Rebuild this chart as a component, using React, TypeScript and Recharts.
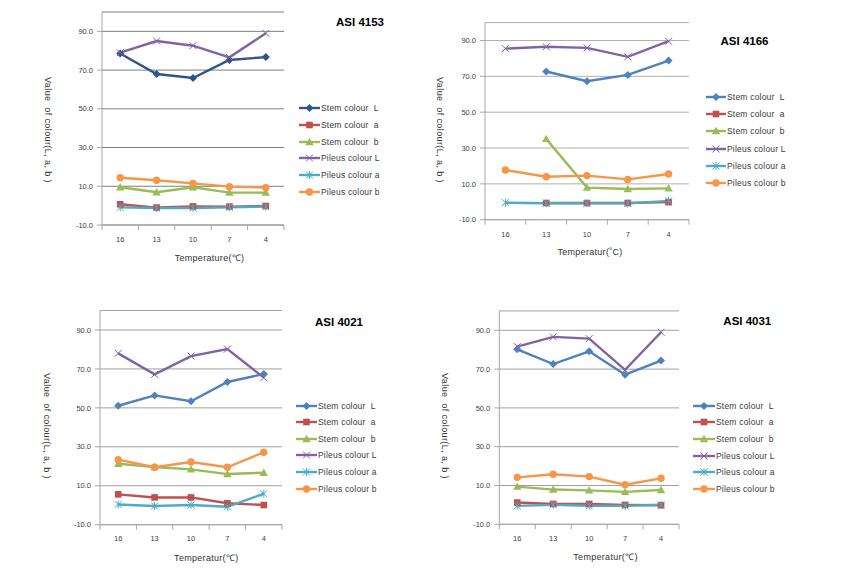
import React from 'react';
import { LineChart, Line, XAxis, YAxis, CartesianGrid, Legend } from 'recharts';

// ---------- data ----------
const temperatures = ['16', '13', '10', '7', '4'];
const yTicks = [-10, 10, 30, 50, 70, 90];
const seriesNames = [
  'Stem colour  L',
  'Stem colour  a',
  'Stem colour  b',
  'Pileus colour L',
  'Pileus colour a',
  'Pileus colour b',
];
const panelTitles = ['ASI 4153', 'ASI 4166', 'ASI 4021', 'ASI 4031'];
const xAxisTitles = ['Temperature(\u2103)', 'Temperatur(\u02daC)', 'Temperatur(\u2103)', 'Temperatur(\u2103)'];
const yAxisTitle = 'Value  of colour(L, a, b )';

// ASI 4153
const a4153StemL = [78.6, 68.0, 65.9, 75.2, 76.7];
const a4153StemA = [0.7, -1.0, -0.4, -0.5, -0.2];
const a4153StemB = [9.5, 6.9, 9.5, 6.7, 6.7];
const a4153PileusL = [79.0, 85.0, 82.6, 76.6, 89.0];
const a4153PileusA = [-0.9, -1.2, -1.2, -0.9, -0.5];
const a4153PileusB = [14.4, 13.1, 11.5, 9.8, 9.3];

// ASI 4166
const a4166StemL = [null, 72.7, 67.3, 70.8, 78.8];
const a4166StemA = [null, -0.7, -0.7, -0.7, -0.2];
const a4166StemB = [null, 35.1, 7.9, 7.1, 7.5];
const a4166PileusL = [85.5, 86.5, 85.9, 80.9, 89.6];
const a4166PileusA = [-0.5, -0.8, -0.9, -0.9, 0.5];
const a4166PileusB = [17.7, 14.0, 14.6, 12.5, 15.5];

// ASI 4021
const a4021StemL = [51.1, 56.4, 53.4, 63.3, 67.4];
const a4021StemA = [5.6, 4.0, 4.0, 1.0, 0.1];
const a4021StemB = [21.3, 19.6, 18.4, 16.0, 16.7];
const a4021PileusL = [78.0, 67.2, 76.6, 80.2, 65.5];
const a4021PileusA = [0.4, -0.4, 0.1, -0.8, 5.9];
const a4021PileusB = [23.4, 19.5, 22.2, 19.5, 27.2];

// ASI 4031
const a4031StemL = [80.2, 72.6, 79.2, 67.1, 74.4];
const a4031StemA = [1.2, 0.5, 0.5, 0.0, -0.2];
const a4031StemB = [9.4, 7.9, 7.5, 6.7, 7.7];
const a4031PileusL = [81.6, 86.6, 85.7, 69.6, 89.0];
const a4031PileusA = [-0.5, 0.0, -0.4, -0.5, 0.1];
const a4031PileusB = [14.2, 15.8, 14.6, 10.4, 13.7];

const buildRows = (series: (number | null)[][]) =>
  temperatures.map((t, i) => {
    const row: Record<string, any> = { temp: t };
    series.forEach((s, k) => {
      row['s' + k] = s[i];
    });
    return row;
  });

const rows4153 = buildRows([a4153StemL, a4153StemA, a4153StemB, a4153PileusL, a4153PileusA, a4153PileusB]);
const rows4166 = buildRows([a4166StemL, a4166StemA, a4166StemB, a4166PileusL, a4166PileusA, a4166PileusB]);
const rows4021 = buildRows([a4021StemL, a4021StemA, a4021StemB, a4021PileusL, a4021PileusA, a4021PileusB]);
const rows4031 = buildRows([a4031StemL, a4031StemA, a4031StemB, a4031PileusL, a4031PileusA, a4031PileusB]);

// ---------- styles ----------
const FONT = '"Liberation Sans", Arial, sans-serif';
const AXIS = '#A6A6A6';
const YAXIS_W = 40;
const baseColors = ['#4F81BD', '#C0504D', '#9BBB59', '#8064A2', '#4BACC6', '#F79646'];
const shapes = ['diamond', 'square', 'triangle', 'x', 'star', 'circle'];

function Marker({ shape, color, x, y }: { shape: string; color: string; x: number; y: number }) {
  switch (shape) {
    case 'diamond':
      return <polygon points={`${x},${y - 4} ${x + 4},${y} ${x},${y + 4} ${x - 4},${y}`} fill={color} />;
    case 'square':
      return <rect x={x - 3.3} y={y - 3.3} width={6.6} height={6.6} fill={color} />;
    case 'triangle':
      return <polygon points={`${x},${y - 4.2} ${x + 4.2},${y + 3.2} ${x - 4.2},${y + 3.2}`} fill={color} />;
    case 'x':
      return (
        <g stroke={color} strokeWidth={1}>
          <line x1={x - 3.5} y1={y - 3.5} x2={x + 3.5} y2={y + 3.5} />
          <line x1={x - 3.5} y1={y + 3.5} x2={x + 3.5} y2={y - 3.5} />
        </g>
      );
    case 'star':
      return (
        <g stroke={color} strokeWidth={1}>
          <line x1={x - 3.5} y1={y - 3.5} x2={x + 3.5} y2={y + 3.5} />
          <line x1={x - 3.5} y1={y + 3.5} x2={x + 3.5} y2={y - 3.5} />
          <line x1={x} y1={y - 4} x2={x} y2={y + 4} />
        </g>
      );
    default:
      return <circle cx={x} cy={y} r={3.7} fill={color} />;
  }
}

const makeDot = (shape: string, color: string) => (props: any) => {
  const { cx, cy, index } = props;
  if (cx == null || cy == null || Number.isNaN(cx) || Number.isNaN(cy) || props.value == null) {
    return <g key={'d' + index} />;
  }
  return (
    <g key={'d' + index}>
      <Marker shape={shape} color={color} x={cx} y={cy} />
    </g>
  );
};

type Cfg = {
  title: string;
  xTitle: string;
  rows: Record<string, any>[];
  left: number;
  top: number;
  width: number;
  height: number;
  margin: { top: number; right: number; bottom: number; left: number };
  xTickMargin: number;
  legendX: number;
  legendY: number;
  legendGap: number;
  legendLine: number;
  titleX: number;
  titleY: number;
  yLabelX: number;
  yLabelY: number;
  xLabelX: number;
  xLabelY: number;
  gridColor: string;
  stemLColor: string;
};

const panels: Cfg[] = [
  {
    title: panelTitles[0], xTitle: xAxisTitles[0], rows: rows4153,
    left: 0, top: 0, width: 430, height: 280,
    margin: { top: 12, right: 146, bottom: 35, left: 62 },
    xTickMargin: 11.5,
    legendX: 299, legendY: 100, legendGap: 16.67, legendLine: 21,
    titleX: 360, titleY: 22, yLabelX: 48, yLabelY: 129.5, xLabelX: 209.5, xLabelY: 256.7,
    gridColor: '#7F7F7F', stemLColor: '#2E5489',
  },
  {
    title: panelTitles[1], xTitle: xAxisTitles[1], rows: rows4166,
    left: 430, top: 0, width: 431, height: 280,
    margin: { top: 22.6, right: 172, bottom: 40.3, left: 15 },
    xTickMargin: 12,
    legendX: 706, legendY: 88.5, legendGap: 17.2, legendLine: 20,
    titleX: 744.5, titleY: 40.7, yLabelX: 440, yLabelY: 130, xLabelX: 590, xLabelY: 251.7,
    gridColor: '#B0B0B0', stemLColor: baseColors[0],
  },
  {
    title: panelTitles[2], xTitle: xAxisTitles[2], rows: rows4021,
    left: 0, top: 290, width: 430, height: 285,
    margin: { top: 20.5, right: 148, bottom: 30.3, left: 60 },
    xTickMargin: 11,
    legendX: 296, legendY: 397.4, legendGap: 16.6, legendLine: 21,
    titleX: 339, titleY: 322, yLabelX: 47, yLabelY: 426, xLabelX: 206.3, xLabelY: 556.7,
    gridColor: '#A0A0A0', stemLColor: baseColors[0],
  },
  {
    title: panelTitles[3], xTitle: xAxisTitles[3], rows: rows4031,
    left: 430, top: 290, width: 431, height: 285,
    margin: { top: 20.9, right: 182, bottom: 30.7, left: 29.3 },
    xTickMargin: 11,
    legendX: 693, legendY: 397.4, legendGap: 16.65, legendLine: 22,
    titleX: 747.3, titleY: 321, yLabelX: 445, yLabelY: 426, xLabelX: 605.5, xLabelY: 555.7,
    gridColor: '#A0A0A0', stemLColor: baseColors[0],
  },
];

function Panel({ cfg }: { cfg: Cfg }) {
  const colors = [cfg.stemLColor, ...baseColors.slice(1)];
  const plotW = cfg.width - cfg.margin.left - cfg.margin.right - YAXIS_W;
  const band = plotW / temperatures.length;
  const n = temperatures.length;

  const renderXTick = (props: any) => {
    const { x, y, payload, index } = props;
    const axisY = y - cfg.xTickMargin;
    return (
      <g key={'t' + index}>
        <line x1={x - band / 2} y1={axisY} x2={x - band / 2} y2={axisY + 5} stroke={AXIS} strokeWidth={1} />
        {index === n - 1 && (
          <line x1={x + band / 2} y1={axisY} x2={x + band / 2} y2={axisY + 5} stroke={AXIS} strokeWidth={1} />
        )}
        <text x={x} y={y} dy="0.71em" textAnchor="middle" fontSize={7.5} fill="#404040" fontFamily={FONT}>
          {payload.value}
        </text>
      </g>
    );
  };

  const renderLegend = () => (
    <div style={{ fontFamily: FONT, fontSize: 8.5, letterSpacing: 0.2, color: '#3A3A3A' }}>
      {seriesNames.map((name, i) => (
        <div key={name} style={{ height: cfg.legendGap, display: 'flex', alignItems: 'center', whiteSpace: 'pre' }}>
          <svg width={cfg.legendLine} height={10} style={{ display: 'block', marginRight: 1 }}>
            <line x1={0} y1={5} x2={cfg.legendLine} y2={5} stroke={colors[i]} strokeWidth={2.4} />
            <Marker shape={shapes[i]} color={colors[i]} x={cfg.legendLine / 2} y={5} />
          </svg>
          <span>{name}</span>
        </div>
      ))}
    </div>
  );
  const tickStyle = { fontSize: 7.5, fill: '#404040', fontFamily: FONT };
  return (
    <div style={{ position: 'absolute', left: cfg.left, top: cfg.top, width: cfg.width, height: cfg.height }}>
      <LineChart width={cfg.width} height={cfg.height} data={cfg.rows} margin={cfg.margin}>
        <CartesianGrid vertical={false} stroke={cfg.gridColor} strokeWidth={1} />
        <XAxis
          dataKey="temp"
          scale="band"
          height={20}
          axisLine={{ stroke: AXIS }}
          tickLine={false}
          tickSize={0}
          tickMargin={cfg.xTickMargin}
          interval={0}
          tick={renderXTick}
        />
        <YAxis
          width={YAXIS_W}
          domain={[-10, 100]}
          ticks={yTicks}
          tickFormatter={(v: number) => v.toFixed(1)}
          tickSize={5}
          tickMargin={4}
          stroke={AXIS}
          tick={tickStyle}
          allowDataOverflow
        />
        <Legend
          layout="vertical"
          align="center"
          verticalAlign="middle"
          content={renderLegend}
          wrapperStyle={{
            position: 'absolute',
            left: cfg.legendX - cfg.left,
            top: cfg.legendY - cfg.top,
            width: 150,
            height: 'auto',
          }}
        />
        {seriesNames.map((name, i) => (
          <Line
            key={name}
            type="linear"
            dataKey={'s' + i}
            name={name}
            stroke={colors[i]}
            strokeWidth={2.4}
            dot={makeDot(shapes[i], colors[i])}
            activeDot={false}
            isAnimationActive={false}
          />
        ))}
      </LineChart>
      <div
        style={{
          position: 'absolute',
          left: cfg.titleX - cfg.left,
          top: cfg.titleY - cfg.top,
          transform: 'translate(-50%, -50%)',
          fontFamily: FONT,
          fontWeight: 'bold',
          fontSize: 11.5,
          color: '#000',
          whiteSpace: 'nowrap',
        }}
      >
        {cfg.title}
      </div>
      <div
        style={{
          position: 'absolute',
          left: cfg.yLabelX - cfg.left,
          top: cfg.yLabelY - cfg.top,
          transform: 'translate(-50%, -50%) rotate(90deg)',
          fontFamily: FONT,
          fontSize: 9,
          letterSpacing: 0.4,
          color: '#333',
          whiteSpace: 'pre',
        }}
      >
        {yAxisTitle}
      </div>
      <div
        style={{
          position: 'absolute',
          left: cfg.xLabelX - cfg.left,
          top: cfg.xLabelY - cfg.top,
          transform: 'translate(-50%, -50%)',
          fontFamily: FONT,
          fontSize: 9,
          letterSpacing: 0.3,
          color: '#333',
          whiteSpace: 'nowrap',
        }}
      >
        {cfg.xTitle}
      </div>
    </div>
  );
}

export default function App() {
  return (
    <div style={{ position: 'absolute', left: 0, top: 0, width: 861, height: 575, background: '#fff', overflow: 'hidden' }}>
      {panels.map((p) => (
        <Panel key={p.title} cfg={p} />
      ))}
    </div>
  );
}
